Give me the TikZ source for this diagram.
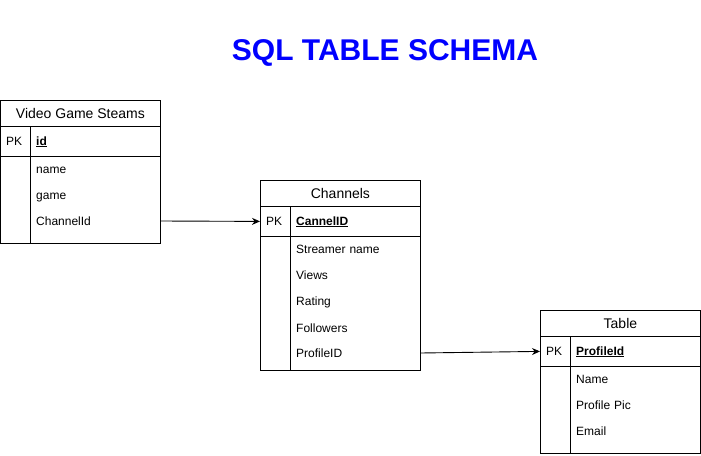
\documentclass[tikz,border=0pt]{standalone}
\usepackage{fontspec}
\setmainfont{Liberation Sans}
\usetikzlibrary{arrows.meta}

\tikzset{
  cell/.style={rectangle,draw,line width=0.8pt,minimum width=160pt,inner sep=0pt,anchor=north west},
  headcell/.style={cell,minimum height=26pt,font=\fontsize{14}{16}\selectfont},
  field/.style={rectangle,anchor=west,inner xsep=6pt,inner ysep=0pt,text width=118pt,text height=10pt,text depth=2pt,align=left,font=\fontsize{12}{14}\selectfont},
  pkfield/.style={field,font=\fontsize{12}{14}\selectfont\bfseries},
  pk/.style={rectangle,anchor=west,inner sep=0pt,text height=10pt,text depth=2pt,font=\fontsize{12}{14}\selectfont},
  link/.style={-{Stealth[length=8pt,width=7pt]},line width=0.9pt},
}

\begin{document}
\begin{tikzpicture}[x=1pt,y=-1pt]
\useasboundingbox (0,0) rectangle (701,455);

% title
\node[font=\fontsize{30}{35}\selectfont\bfseries,text=blue] (schema) at (385,53) {SQL TABLE SCHEMA};

% Video Game Steams
\node[headcell] (vgshead) at (0,100) {Video Game Steams};
\node[cell,minimum height=30pt] (vgspkrow) at (0,126) {};
\node[cell,minimum height=87pt] (vgsbody) at (0,156) {};
\draw[line width=0.8pt] (30,126) -- (30,243);
\node[pk] (vgspk) at (6,141) {PK};
\node[pkfield] (vgsid) at (30,141) {\underline{id}};
\node[field] (vgsname) at (30,169) {name};
\node[field] (vgsgame) at (30,195) {game};
\node[field] (vgschan) at (30,221) {ChannelId};

% Channels
\node[headcell] (chhead) at (260,180) {Channels};
\node[cell,minimum height=30pt] (chpkrow) at (260,206) {};
\node[cell,minimum height=134pt] (chbody) at (260,236) {};
\draw[line width=0.8pt] (290,206) -- (290,370);
\node[pk] (chpk) at (266,221) {PK};
\node[pkfield] (chid) at (290,221) {\underline{CannelID}};
\node[field] (chname) at (290,249) {Streamer name};
\node[field] (chviews) at (290,275) {Views};
\node[field] (chrating) at (290,301) {Rating};
\node[field] (chfollow) at (290,328) {Followers};
\node[field] (chprof) at (290,353) {ProfileID};

% Table
\node[headcell] (tblhead) at (540,310) {Table};
\node[cell,minimum height=30pt] (tblpkrow) at (540,336) {};
\node[cell,minimum height=87pt] (tblbody) at (540,366) {};
\draw[line width=0.8pt] (570,336) -- (570,453);
\node[pk] (tblpk) at (546,351) {PK};
\node[pkfield] (tblid) at (570,351) {\underline{ProfileId}};
\node[field] (tblname) at (570,379) {Name};
\node[field] (tblpic) at (570,405) {Profile Pic};
\node[field] (tblmail) at (570,431) {Email};

% links
\draw[link] (vgschan.east) -- (chpkrow.west);
\draw[link] (chprof.east) -- (tblpkrow.west);
\end{tikzpicture}
\end{document}
